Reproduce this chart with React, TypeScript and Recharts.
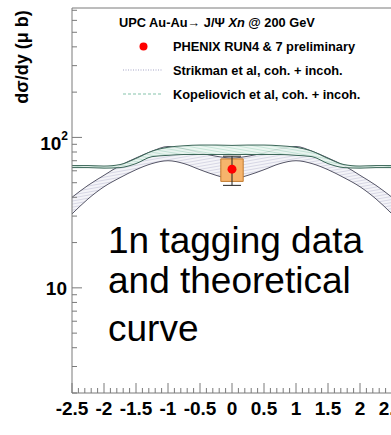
import React from "react";
import {
  ComposedChart,
  Area,
  Scatter,
  ErrorBar,
  XAxis,
  YAxis,
  ReferenceArea,
  ReferenceLine,
} from "recharts";

// rapidity points where the theory bands were read
const xs = [-2.5, -2.25, -2, -1.75, -1.5, -1.25, -1, -0.75, -0.5, -0.25, 0, 0.25, 0.5, 0.75, 1, 1.25, 1.5, 1.75, 2, 2.25, 2.5];
// Strikman et al band (coh. + incoh.)
const strikLow = [31, 39, 47, 54, 61, 67, 70, 67, 61, 56, 53, 56, 61, 67, 70, 67, 61, 54, 47, 39, 31];
const strikHigh = [40, 48, 56, 65, 73, 81, 87, 84, 79, 75, 73, 75, 79, 84, 87, 81, 73, 65, 56, 48, 40];
// Kopeliovich et al band (coh. + incoh.)
const kopLow = [63, 63, 62.5, 63, 67, 74.5, 76, 77, 77, 77, 77, 77, 77, 77, 76, 74.5, 67, 63, 62.5, 63, 63];
const kopHigh = [65, 65, 64.5, 66, 72.5, 81, 86, 88, 89, 89, 88.5, 89, 89, 88, 86, 81, 72.5, 66, 64.5, 65, 65];

// PHENIX point
const pointX = [0];
const pointY = [61.5];
const statLow = [13.5];
const statHigh = [13.5];
const sysLow = [51];
const sysHigh = [72];
const sysHalfWidth = 0.175;

const xLabels = ["-2.5", "-2", "-1.5", "-1", "-0.5", "0", "0.5", "1", "1.5", "2", "2.5"];
const yTicks = [2, 3, 4, 5, 6, 7, 8, 9, 10, 20, 30, 40, 50, 60, 70, 80, 90, 100, 200, 300, 400, 500, 600, 700];
const xTicks: number[] = [];
for (let i = -25; i <= 25; i++) xTicks.push(i / 10);

const data = xs.map((x, i) => ({
  x,
  strik: [strikLow[i], strikHigh[i]],
  kop: [kopLow[i], kopHigh[i]],
}));
const points = pointX.map((x, i) => ({ x, y: pointY[i], err: [statLow[i], statHigh[i]] }));

const FONT = "'Liberation Sans', Arial, sans-serif";
const AXIS = "#7a7a7a";
const LEFT = 72;
const BOTTOM = 393;

const XTick = (props: any) => {
  const { x, payload } = props;
  const v = Math.round(payload.value * 10) / 10;
  const major = Math.abs(v * 2 - Math.round(v * 2)) < 1e-6;
  const label = xLabels.find((l) => parseFloat(l) === v);
  return (
    <g>
      <line x1={x} x2={x} y1={BOTTOM} y2={BOTTOM - (major ? 10 : 5)} stroke={AXIS} />
      {major && label && (
        <text x={x} y={BOTTOM + 22} textAnchor="middle" fontFamily={FONT} fontWeight={700} fontSize={19} fill="#000">
          {label}
        </text>
      )}
    </g>
  );
};

const YTick = (props: any) => {
  const { y, payload } = props;
  const v = payload.value;
  const major = v === 10 || v === 100;
  return (
    <g>
      <line x1={LEFT} x2={LEFT + (major ? 10 : 5)} y1={y} y2={y} stroke={AXIS} />
      {v === 10 && (
        <text x={LEFT - 5} y={y + 7} textAnchor="end" fontFamily={FONT} fontWeight={700} fontSize={19} fill="#000">
          10
        </text>
      )}
      {v === 100 && (
        <text x={LEFT - 4} y={y + 13} textAnchor="end" fontFamily={FONT} fontWeight={700} fontSize={19} fill="#000">
          10
          <tspan fontSize={12} dy={-10}>2</tspan>
        </text>
      )}
    </g>
  );
};

export default function App() {
  return (
    <div style={{ position: "absolute", left: 0, top: 0, width: 391, height: 435, overflow: "hidden", background: "#fff" }}>
      <ComposedChart width={420} height={450} data={data} margin={{ top: 8, right: 28, bottom: 0, left: 0 }}>
        <defs>
          <pattern id="hatchGray" patternUnits="userSpaceOnUse" width="3" height="3" patternTransform="rotate(-10)">
            <rect width="3" height="3" fill="#f4f4f8" />
            <line x1="0" y1="0.5" x2="3" y2="0.5" stroke="#cacadc" strokeWidth="0.7" />
          </pattern>
          <pattern id="hatchGreen" patternUnits="userSpaceOnUse" width="3" height="3" patternTransform="rotate(10)">
            <rect width="3" height="3" fill="#e8f5ef" />
            <line x1="0" y1="0.5" x2="3" y2="0.5" stroke="#a9d7c3" strokeWidth="0.7" />
          </pattern>
        </defs>
        <XAxis
          dataKey="x"
          type="number"
          domain={[-2.5, 2.5]}
          ticks={xTicks}
          interval={0}
          tick={<XTick />}
          tickLine={false}
          axisLine={{ stroke: AXIS }}
          height={57}
          allowDataOverflow
        />
        <YAxis
          type="number"
          scale="log"
          domain={[2, 725]}
          ticks={yTicks}
          interval={0}
          tick={<YTick />}
          tickLine={false}
          axisLine={{ stroke: AXIS }}
          width={LEFT}
          allowDataOverflow
        />
        <ReferenceLine y={725} stroke={AXIS} />
        <Area
          type="monotone"
          dataKey="strik"
          stroke="#555566"
          strokeWidth={1}
          fill="url(#hatchGray)"
          fillOpacity={1}
          isAnimationActive={false}
        />
        <Area
          type="monotone"
          dataKey="kop"
          stroke="#3b6658"
          strokeWidth={1}
          fill="url(#hatchGreen)"
          fillOpacity={0.85}
          isAnimationActive={false}
        />
        <ReferenceArea
          x1={pointX[0] - sysHalfWidth}
          x2={pointX[0] + sysHalfWidth}
          y1={sysLow[0]}
          y2={sysHigh[0]}
          fill="#f6b46c"
          fillOpacity={1}
          stroke="#c27a2e"
          ifOverflow="visible"
        />
        <Scatter
          data={points}
          dataKey="y"
          isAnimationActive={false}
          shape={(p: any) => <circle cx={p.cx} cy={p.cy} r={4.5} fill="#ff0000" />}
        >
          <ErrorBar dataKey="err" direction="y" width={9} stroke="#222" strokeWidth={1} />
        </Scatter>
      </ComposedChart>
      <svg width={391} height={435} style={{ position: "absolute", left: 0, top: 0, pointerEvents: "none" }}>
        <text
          transform="translate(28,57) rotate(-90)"
          textAnchor="middle"
          fontFamily={FONT}
          fontWeight="bold"
          fontSize={18}
          fill="#000"
        >
          dσ/dy (μ b)
        </text>
        <g fontFamily={FONT} fontWeight="bold" fontSize={12.8} fill="#000">
          <text x={119} y={27}>
            UPC Au-Au→ J/Ψ <tspan fontStyle="italic">Xn</tspan> @ 200 GeV
          </text>
          <circle cx={143.5} cy={46.5} r={4} fill="#ff0000" />
          <text x={173} y={51}>PHENIX RUN4 &amp; 7 preliminary</text>
          <line x1={123} x2={163} y1={70} y2={70} stroke="#a5a5c5" strokeWidth={1.2} strokeDasharray="1 1.5" />
          <text x={173} y={74.5}>Strikman et al, coh. + incoh.</text>
          <line x1={123} x2={163} y1={94} y2={94} stroke="#86c4ab" strokeWidth={1.2} strokeDasharray="3 2" />
          <text x={173} y={98.5}>Kopeliovich et al, coh. + incoh.</text>
        </g>
        <g fontFamily={FONT} fontSize={37} fill="#000">
          <text x={108} y={253}>1n tagging data</text>
          <text x={108} y={293}>and theoretical</text>
          <text x={108} y={341}>curve</text>
        </g>
        <text x={383} y={447} fontFamily={FONT} fontWeight="bold" fontSize={17} fill="#000">
          y
        </text>
      </svg>
    </div>
  );
}
